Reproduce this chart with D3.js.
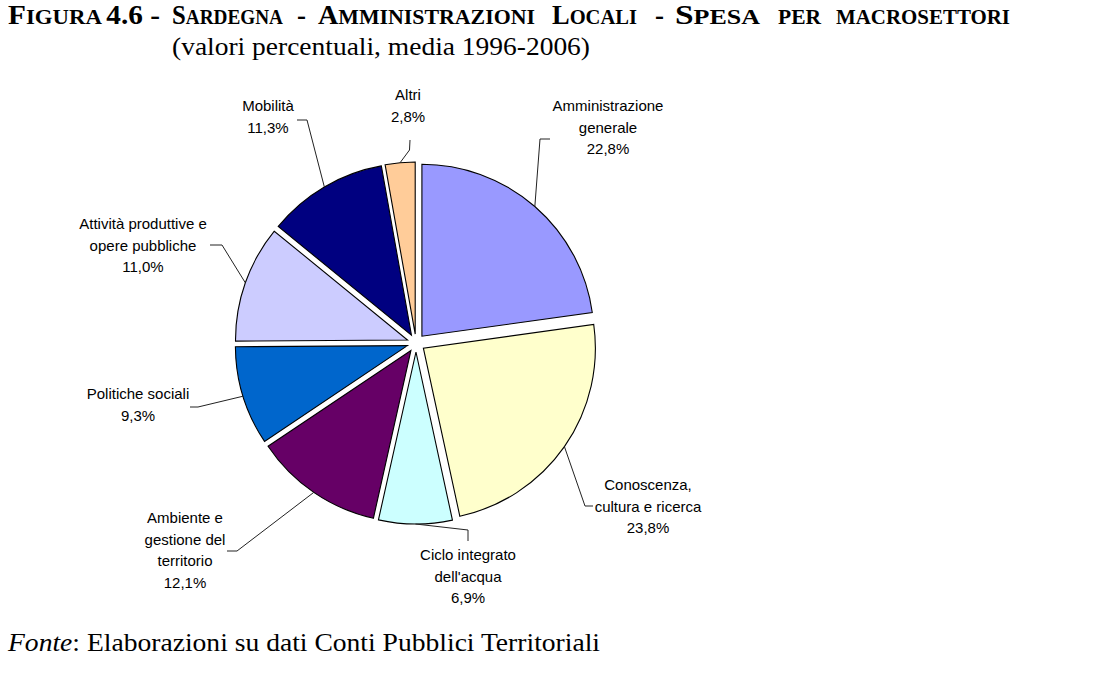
<!DOCTYPE html>
<html>
<head>
<meta charset="utf-8">
<script src="https://cdn.jsdelivr.net/npm/d3@7"></script>
<style>
  html, body { margin: 0; padding: 0; background: #fff; }
  svg { display: block; }
</style>
</head>
<body>
<svg id="chart" width="1106" height="679"></svg>
<script>
// ---- data ----
const categories = [
  "Amministrazione generale",
  "Conoscenza, cultura e ricerca",
  "Ciclo integrato dell'acqua",
  "Ambiente e gestione del territorio",
  "Politiche sociali",
  "Attività produttive e opere pubbliche",
  "Mobilità",
  "Altri"
];
const values = [22.8, 23.8, 6.9, 12.1, 9.3, 11.0, 11.3, 2.8];
const labelLines = [
  ["Amministrazione", "generale"],
  ["Conoscenza,", "cultura e ricerca"],
  ["Ciclo integrato", "dell'acqua"],
  ["Ambiente e", "gestione del", "territorio"],
  ["Politiche sociali"],
  ["Attività produttive e", "opere pubbliche"],
  ["Mobilità"],
  ["Altri"]
];
const colors = ["#9999FF", "#FFFFCC", "#CCFFFF", "#660066", "#0066CC", "#CCCCFF", "#000080", "#FFCC99"];

const titlePrefix = "Figura 4.6 -";
const titleWords = ["Sardegna", "-", "Amministrazioni", "Locali", "-", "Spesa", "per", "macrosettori"];
const subtitle = "(valori percentuali, media 1996-2006)";
const sourceLabel = "Fonte";
const sourceText = ": Elaborazioni su dati Conti Pubblici Territoriali";

// ---- layout (positions, not data) ----
const cx = 416, cy = 343, R = 172, explode = 9;
const lineH = 21.5;
const labelLayout = [
  { x: 608, y: 106, elbow: [[550, 139], [540, 139]] },
  { x: 648, y: 485, elbow: [[593, 506], [585, 506]] },
  { x: 468, y: 555, elbow: [[468, 541], [468, 530]] },
  { x: 185, y: 518, elbow: [[227, 551], [237, 551]] },
  { x: 138, y: 394, elbow: [[190, 407], [198, 407]] },
  { x: 143, y: 224, elbow: [[210, 245], [222, 245]] },
  { x: 268, y: 106, elbow: [[297, 120], [307, 120]] },
  { x: 408, y: 95,  elbow: [[410, 140], [409.5, 150]] }
];
// title word boxes: [x, width]
const titleWordBoxes = [[172, 111], [297, 9], [318, 217], [552, 85], [655, 9], [675, 85], [778, 43], [836, 174]];

const svg = d3.select("#chart");

// ---- title ----
function smallCaps(textSel, str, big, small) {
  let runs = [];
  for (const ch of str) {
    const isSmall = ch !== ch.toUpperCase() || (ch === " " && runs.length && runs[runs.length - 1].small);
    if (runs.length && runs[runs.length - 1].small === isSmall) runs[runs.length - 1].t += ch;
    else runs.push({ t: ch, small: isSmall });
  }
  runs.forEach(r => {
    textSel.append("tspan")
      .attr("font-size", r.small ? small : big)
      .text(r.small ? r.t.toUpperCase() : r.t);
  });
}
const serif = "'Liberation Serif', 'Times New Roman', serif";

const t1 = svg.append("text")
  .attr("x", 8).attr("y", 24)
  .attr("font-family", serif)
  .attr("font-weight", "bold")
  .attr("textLength", 152).attr("lengthAdjust", "spacingAndGlyphs")
  .style("white-space", "pre");
smallCaps(t1, titlePrefix, 27, 21);

titleWords.forEach((w, i) => {
  const t = svg.append("text")
    .attr("x", titleWordBoxes[i][0]).attr("y", 24)
    .attr("font-family", serif)
    .attr("font-weight", "bold")
    .attr("textLength", titleWordBoxes[i][1]).attr("lengthAdjust", "spacingAndGlyphs");
  smallCaps(t, w, 27, 21);
});

svg.append("text")
  .attr("x", 172).attr("y", 55)
  .attr("font-family", serif)
  .attr("font-size", 26)
  .attr("textLength", 418).attr("lengthAdjust", "spacingAndGlyphs")
  .text(subtitle);

// ---- pie ----
const pie = d3.pie().sort(null).value(d => d).startAngle(0).endAngle(2 * Math.PI);
const arcs = pie(values);
const arcGen = d3.arc().innerRadius(0).outerRadius(R);

const g = svg.append("g").attr("transform", `translate(${cx},${cy})`);

arcs.forEach((a, i) => {
  const mid = (a.startAngle + a.endAngle) / 2;
  const ox = explode * Math.sin(mid), oy = -explode * Math.cos(mid);
  g.append("path")
    .attr("d", arcGen(a))
    .attr("transform", `translate(${ox},${oy})`)
    .attr("fill", colors[i])
    .attr("stroke", "#000")
    .attr("stroke-width", 1.1)
    .attr("stroke-linejoin", "miter");
});

// ---- leader lines & labels ----
const fmt = v => d3.format(".1f")(v).replace(".", ",") + "%";

arcs.forEach((a, i) => {
  const mid = (a.startAngle + a.endAngle) / 2;
  const px = cx + (explode + R) * Math.sin(mid);
  const py = cy - (explode + R) * Math.cos(mid);
  const L = labelLayout[i];
  const pts = [...L.elbow, [px, py]];
  svg.append("path")
    .attr("d", d3.line()(pts))
    .attr("fill", "none")
    .attr("stroke", "#222")
    .attr("stroke-width", 1);

  const lines = [...labelLines[i], fmt(values[i])];
  const txt = svg.append("text")
    .attr("font-family", "'Liberation Sans', Arial, sans-serif")
    .attr("font-size", 15)
    .attr("fill", "#000")
    .attr("text-anchor", "middle");
  lines.forEach((ln, j) => {
    txt.append("tspan")
      .attr("x", L.x)
      .attr("y", L.y + j * lineH)
      .attr("dy", "0.35em")
      .text(ln);
  });
});

// ---- source ----
const src = svg.append("text")
  .attr("x", 8).attr("y", 651)
  .attr("font-family", serif)
  .attr("font-size", 26)
  .attr("textLength", 592).attr("lengthAdjust", "spacingAndGlyphs");
src.append("tspan").attr("font-style", "italic").text(sourceLabel);
src.append("tspan").text(sourceText);
</script>
</body>
</html>
